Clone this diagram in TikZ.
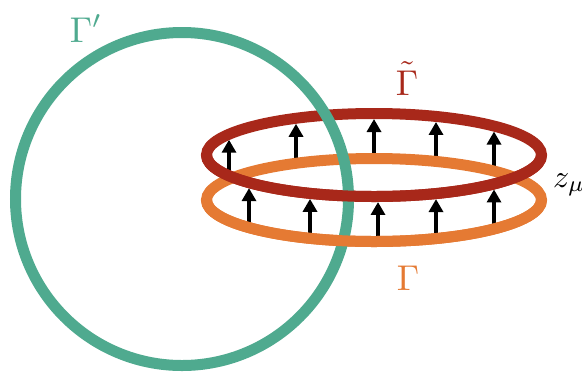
\documentclass[tikz,border=0pt]{standalone}
\usepackage{graphicx}
\usetikzlibrary{arrows.meta}
\definecolor{cgreen}{RGB}{79,170,143}
\definecolor{cred}{RGB}{168,40,26}
\definecolor{corange}{RGB}{229,122,51}
\tikzset{
  ring/.style={line width=11bp, line cap=butt},
  arr/.style={line width=3.5bp, -{Triangle[length=13bp,width=14bp]}},
  lbl/.style={inner sep=0pt, anchor=base},
}
\newcommand{\bigmath}[2]{\scalebox{#1}{$#2$}}
\begin{document}
\begin{tikzpicture}[x=1bp,y=-1bp]
\useasboundingbox (0,0) rectangle (582,372);
% arrows (drawn first, under the rings)
\foreach \x [count=\i] in {229,296,374,436,494} {
  \pgfmathsetmacro\s{41.5*sqrt(1-((\x-374)/167.5)^2)}
  \coordinate (ut\i) at (\x,200-\s);
  \coordinate (uh\i) at (\x,160.5-\s);
  \draw[arr] (ut\i) -- (uh\i);
}
\foreach \x [count=\i] in {249,310,378,436,494} {
  \pgfmathsetmacro\s{41.5*sqrt(1-((\x-374)/167.5)^2)}
  \coordinate (lt\i) at (\x,200+\s);
  \coordinate (lh\i) at (\x,160.5+\s);
  \draw[arr] (lt\i) -- (lh\i);
}
% rings: back parts
\coordinate (oc) at (374,200);
\coordinate (rc) at (374,155);
\coordinate (gc) at (182,199);
\draw[ring, corange] (oc) ellipse [x radius=167.5bp, y radius=41.5bp];
\draw[ring, cred] (rc) ellipse [x radius=167.5bp, y radius=41.5bp];
% green circle
\draw[ring, cgreen] (gc) circle [radius=166.5bp];
% rings: front parts
\draw[ring, corange] ([xshift=-167.5bp]oc) arc [start angle=180, end angle=360, x radius=167.5bp, y radius=41.5bp];
\draw[ring, cred] ([xshift=-167.5bp]rc) arc [start angle=180, end angle=360, x radius=167.5bp, y radius=41.5bp];
% labels
\node[lbl, text=cgreen] (gp) at (86,42) {\bigmath{3.6}{\Gamma'}};
\node[lbl, text=cred] (gt) at (407,95) {\bigmath{3.6}{\tilde{\Gamma}}};
\node[lbl, text=corange] (g) at (408,290) {\bigmath{3.6}{\Gamma}};
\node[inner sep=0pt, anchor=base west] (z) at (553,187) {\bigmath{3.2}{z_\mu}};
\end{tikzpicture}
\end{document}
